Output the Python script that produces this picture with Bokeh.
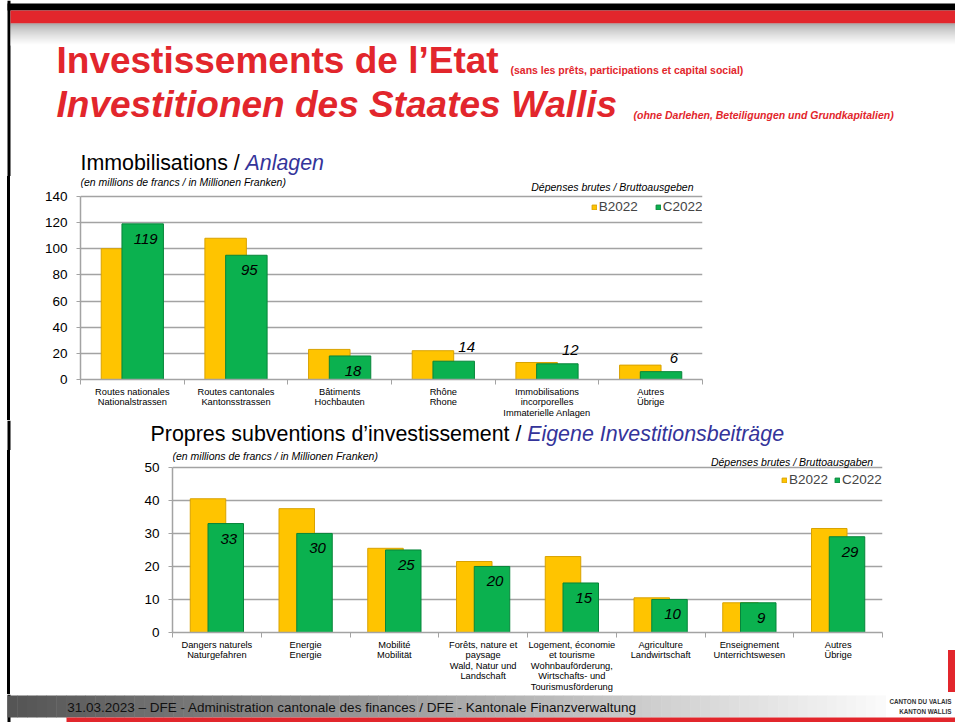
from bokeh.plotting import figure
from bokeh.models import Range1d, FixedTicker, Legend, LegendItem, ColumnDataSource, Label
from bokeh.transform import dodge
from bokeh.core.properties import value
from bokeh.embed import file_html
from bokeh.resources import INLINE

# ---------------- data ----------------
series_names = ["B2022", "C2022"]

anl_categories = [
    "Routes nationales\nNationalstrassen",
    "Routes cantonales\nKantonsstrassen",
    "Bâtiments\nHochbauten",
    "Rhône\nRhone",
    "Immobilisations\nincorporelles\nImmaterielle Anlagen",
    "Autres\nÜbrige",
]
anl_b2022 = [100, 108, 23, 22, 13, 11]
anl_c2022 = [119, 95, 18, 14, 12, 6]
anl_ticks = [0, 20, 40, 60, 80, 100, 120, 140]

sub_categories = [
    "Dangers naturels\nNaturgefahren",
    "Energie\nEnergie",
    "Mobilité\nMobilität",
    "Forêts, nature et\npaysage\nWald, Natur und\nLandschaft",
    "Logement, économie\net tourisme\nWohnbauförderung,\nWirtschafts- und\nTourismusförderung",
    "Agriculture\nLandwirtschaft",
    "Enseignement\nUnterrichtswesen",
    "Autres\nÜbrige",
]
sub_b2022 = [40.5, 37.5, 25.5, 21.5, 23, 10.5, 9, 31.5]
sub_c2022 = [33, 30, 25, 20, 15, 10, 9, 29]
sub_ticks = [0, 10, 20, 30, 40, 50]

# ---------------- style ----------------
FONT = "Liberation Sans"
RED = "#E2262C"
BLUE = "#34349A"
YELLOW, YELLOW_LINE = "#FFC400", "#D9A200"
GREEN, GREEN_LINE = "#0BB14F", "#07853A"
GRID = "#A3A3A3"
W = 955
MID = 0.3465  # em distance from alphabetic baseline to the middle of the em box
LEFT_LINE = "linear-gradient(to right, #ffffff 7px, #000000 7px, #000000 10px, #ffffff 10px)"


def deco_fig(y0, y1):
    """Decoration strip whose data coordinates are page pixels (y downwards)."""
    f = figure(width=W, height=y1 - y0, x_range=Range1d(0, W), y_range=Range1d(y1, y0),
               output_backend="svg", toolbar_location=None, min_border=0,
               x_axis_type=None, y_axis_type=None)
    f.grid.visible = False
    f.outline_line_color = None
    f.background_fill_color = "white"
    f.border_fill_color = "white"
    f.quad(left=7, right=10, top=y0, bottom=y1, fill_color="black", line_color=None)
    return f


def txt(f, x, base, s, size, style="normal", color="black", align="left"):
    """Text placed by its alphabetic baseline (converted to a middle anchor)."""
    f.text(x=[x], y=[base - MID * size], text=[s], text_font=value(FONT), text_font_style=style,
           text_font_size="%gpx" % size, text_color=color, text_align=align,
           text_baseline="middle")


# ---------------- header + chart 1 title (page y 0..176) ----------------
hdr = deco_fig(0, 176)
hdr.quad(left=7, right=W, top=3, bottom=10, fill_color="black", line_color=None)
hdr.quad(left=10, right=W, top=10, bottom=23, fill_color=RED, line_color=None)
n_g = 22
g_cols = []
for i in range(n_g):
    t = i / (n_g - 1)
    c = int(140 + (255 - 140) * (t ** 0.7))
    g_cols.append("#%02x%02x%02x" % (c, c, c))
hdr.quad(left=[10] * n_g, right=[W] * n_g, top=[23 + i for i in range(n_g)],
         bottom=[24 + i for i in range(n_g)], fill_color=g_cols, line_color=None)

txt(hdr, 56, 72.7, "Investissements de l’Etat", 37, "bold", RED)
txt(hdr, 510, 73, "(sans les prêts, participations et capital social)", 10.5, "bold", RED)
txt(hdr, 56, 117.3, "Investitionen des Staates Wallis", 37, "bold italic", RED)
txt(hdr, 633, 118, "(ohne Darlehen, Beteiligungen und Grundkapitalien)", 10.5, "bold italic", RED)

txt(hdr, 80, 169.5, "Immobilisations / ", 21.4)
txt(hdr, 245, 169.5, "Anlagen", 21.4, "italic", BLUE)


# ---------------- charts ----------------
def make_chart(cats, bvals, cvals, ticks, h, bl, br, bb, gap_top, axis_px, notes,
               legend_xy, legend_spacing, inside_thr, bg):
    n = len(cats)
    y_top = ticks[-1] + gap_top * (ticks[-1] - ticks[0]) / axis_px
    p = figure(width=W, height=h, x_range=Range1d(-0.5, n - 0.5),
               y_range=Range1d(ticks[0], y_top), output_backend="svg",
               toolbar_location=None, min_border_left=bl, min_border_right=br,
               min_border_top=0, min_border_bottom=bb, styles={"background": bg})
    p.outline_line_color = None
    p.background_fill_color = "white"
    p.border_fill_color = None

    inside = [v >= inside_thr for v in cvals]
    src = ColumnDataSource(dict(
        idx=list(range(n)), b=bvals, c=cvals,
        lab=["%g" % v for v in cvals],
        xo=[3 if s else 13 for s in inside],
        yo=[15 if s else -14 for s in inside],
    ))
    rb = p.vbar(x=dodge("idx", -0.1), top="b", width=0.4, source=src,
                fill_color=YELLOW, line_color=YELLOW_LINE, line_width=1)
    rc = p.vbar(x=dodge("idx", 0.1), top="c", width=0.4, source=src,
                fill_color=GREEN, line_color=GREEN_LINE, line_width=1)
    p.text(x=dodge("idx", 0.1), y="c", text="lab", x_offset="xo", y_offset="yo",
           source=src, text_font=value(FONT), text_font_style="italic",
           text_font_size="15px", text_color="black", text_align="center",
           text_baseline="middle")

    ya = p.yaxis[0]
    ya.ticker = FixedTicker(ticks=ticks)
    ya.bounds = (ticks[0], ticks[-1])
    ya.major_label_text_font = FONT
    ya.major_label_text_font_size = "13.5px"
    ya.major_label_text_color = "black"
    ya.major_tick_out = 4
    ya.major_tick_in = 0
    ya.major_tick_line_color = GRID
    ya.minor_tick_line_color = None
    ya.axis_line_color = GRID
    ya.axis_line_width = 1.5
    ya.major_label_standoff = 9

    p.ygrid.ticker = FixedTicker(ticks=ticks)
    p.ygrid.grid_line_color = GRID
    p.ygrid.grid_line_width = 1.5
    p.xgrid.visible = False

    xa = p.xaxis[0]
    xa.ticker = FixedTicker(ticks=list(range(n)), minor_ticks=[i - 0.5 for i in range(n + 1)])
    xa.major_label_overrides = {i: cats[i] for i in range(n)}
    xa.major_tick_out = 0
    xa.major_tick_in = 0
    xa.major_tick_line_color = None
    xa.minor_tick_out = 5
    xa.minor_tick_in = 0
    xa.minor_tick_line_color = GRID
    xa.axis_line_color = GRID
    xa.axis_line_width = 1.5
    xa.major_label_text_font = FONT
    xa.major_label_text_font_size = "9.3px"
    xa.major_label_text_line_height = 1.05
    xa.major_label_text_color = "black"
    xa.major_label_standoff = 2

    (sub_y, right_txt, rx, ry) = notes
    p.add_layout(Label(x=0, y=sub_y, x_units="screen", y_units="screen",
                       text="(en millions de francs / in Millionen Franken)",
                       text_font=FONT, text_font_size="10.5px", text_font_style="italic",
                       text_color="black", text_baseline="middle"))
    p.add_layout(Label(x=rx, y=ry, x_units="screen", y_units="screen", text=right_txt,
                       text_font=FONT, text_font_size="10.5px", text_font_style="italic",
                       text_color="black", text_baseline="middle", text_align="right"))

    legend = Legend(items=[LegendItem(label=series_names[0], renderers=[rb]),
                           LegendItem(label=series_names[1], renderers=[rc])],
                    orientation="horizontal", location=legend_xy, padding=0, margin=0,
                    spacing=legend_spacing, label_standoff=2, glyph_width=6, glyph_height=6,
                    label_height=14, label_text_font=FONT, label_text_font_size="13.5px",
                    border_line_color=None, background_fill_alpha=0)
    p.add_layout(legend)
    return p


# chart 1: page y 176..420, frame x 80..702, value 140 at y 196, 0 at y 380
ch1 = make_chart(anl_categories, anl_b2022, anl_c2022, anl_ticks, 244, 80, 253, 40, 20, 184,
                 (197.1, "Dépenses brutes / Bruttoausgeben", 613, 192.1),
                 (510.7, 164.7), 17, 15, LEFT_LINE)

# chart 2 title: page y 420..450
t2 = deco_fig(420, 450)
txt(t2, 150, 440.7, "Propres subventions d’investissement / ", 21.4)
txt(t2, 526.7, 440.7, "Eigene Investitionsbeiträge", 21.4, "italic", BLUE)

# chart 2: page y 450..694, frame x 172..882, value 50 at y 467, 0 at y 633
EMBLEM = "linear-gradient(#E2262C, #E2262C) 948px 200px / 7px 42px no-repeat, " + LEFT_LINE
ch2 = make_chart(sub_categories, sub_b2022, sub_c2022, sub_ticks, 244, 172, 73, 61, 17, 166,
                 (176.6, "Dépenses brutes / Bruttoausgaben", 700.7, 170.9),
                 (609, 145), 6, 5, EMBLEM)

# ---------------- footer (page y 694..722) ----------------
ftr = deco_fig(694, 722)
n_f = 90
f_cols = []
for i in range(n_f):
    t = i / (n_f - 1)
    c = int(85 + (250 - 85) * t)
    f_cols.append("#%02x%02x%02x" % (c, c, c))
step = (885 - 7) / n_f
ftr.quad(left=[7 + i * step for i in range(n_f)], right=[7 + (i + 1) * step + 0.5 for i in range(n_f)],
         top=[695] * n_f, bottom=[717] * n_f, fill_color=f_cols, line_color=None)
ftr.quad(left=66, right=W, top=717, bottom=722, fill_color=RED, line_color=None)
ftr.text(x=[66.7], y=[707.3],
         text=["31.03.2023 – DFE - Administration cantonale des finances / DFE - Kantonale Finanzverwaltung"],
         text_font=value(FONT), text_font_size="13.5px", text_color="#111111",
         text_baseline="middle")
ftr.text(x=[951, 951], y=[701, 710.7], text=["CANTON DU VALAIS", "KANTON WALLIS"],
         text_font=value(FONT), text_font_style="bold", text_font_size="6.3px",
         text_color="#333333", text_align="right", text_baseline="middle")

p = [hdr, ch1, t2, ch2, ftr]
open("out.html", "w").write(file_html(p, INLINE))
